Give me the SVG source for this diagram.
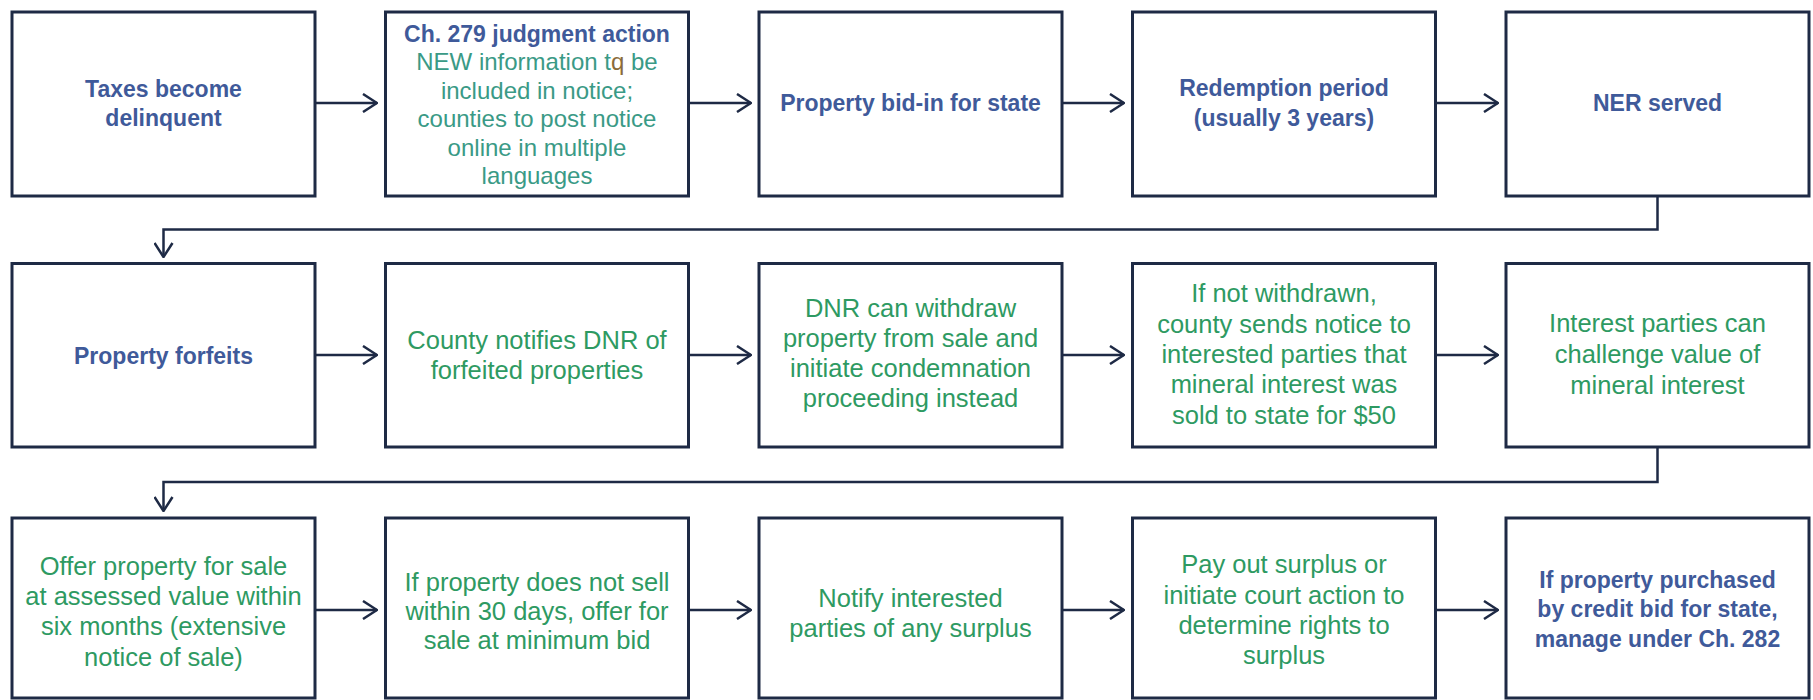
<svg xmlns="http://www.w3.org/2000/svg" width="1813" height="700" viewBox="0 0 1813 700">
<style>
.box{fill:#ffffff;stroke:#1E2A45;stroke-width:3}
.cn{fill:none;stroke:#1E2A45;stroke-width:2.5}
text{font-family:"Liberation Sans",Arial,sans-serif;text-anchor:middle}
.b{font-size:23px;font-weight:bold;fill:#3F5A9A}
.g{font-size:25.5px;fill:#2E9A62}
.t{font-size:24px;fill:#3A9A86}
.q{fill:#8B6B3A}
</style>
<defs>
<marker id="arr" markerUnits="userSpaceOnUse" viewBox="0 0 16 20" refX="15" refY="10" markerWidth="16" markerHeight="20" orient="auto">
<path d="M1,1 L15,10 L1,19" fill="none" stroke="#1E2A45" stroke-width="2.5"/>
</marker>
</defs>
<rect width="1813" height="700" fill="#ffffff"/>

<g id="connectors">
<path class="cn" d="M315,103 H377" marker-end="url(#arr)"/>
<path class="cn" d="M688.5,103 H751" marker-end="url(#arr)"/>
<path class="cn" d="M1062,103 H1124" marker-end="url(#arr)"/>
<path class="cn" d="M1435.5,103 H1498" marker-end="url(#arr)"/>
<path class="cn" d="M1657.5,196 V229.5 H163.5 V257" marker-end="url(#arr)"/>
<path class="cn" d="M315,355 H377" marker-end="url(#arr)"/>
<path class="cn" d="M688.5,355 H751" marker-end="url(#arr)"/>
<path class="cn" d="M1062,355 H1124" marker-end="url(#arr)"/>
<path class="cn" d="M1435.5,355 H1498" marker-end="url(#arr)"/>
<path class="cn" d="M1657.5,447 V482 H163.5 V511" marker-end="url(#arr)"/>
<path class="cn" d="M315,610 H377" marker-end="url(#arr)"/>
<path class="cn" d="M688.5,610 H751" marker-end="url(#arr)"/>
<path class="cn" d="M1062,610 H1124" marker-end="url(#arr)"/>
<path class="cn" d="M1435.5,610 H1498" marker-end="url(#arr)"/>
</g>

<g id="n1">
<rect class="box" x="12" y="12" width="303" height="184"/>
<text class="b" x="163.5" y="96.5">Taxes become</text>
<text class="b" x="163.5" y="125.5">delinquent</text>
</g>
<g id="n2">
<rect class="box" x="385.5" y="12" width="303" height="184"/>
<text class="b" x="537" y="41.5">Ch. 279 judgment action</text>
<text class="t" x="537" y="70">NEW information t<tspan class="q">q</tspan> be</text>
<text class="t" x="537" y="98.5">included in notice;</text>
<text class="t" x="537" y="127">counties to post notice</text>
<text class="t" x="537" y="155.5">online in multiple</text>
<text class="t" x="537" y="184">languages</text>
</g>
<g id="n3">
<rect class="box" x="759" y="12" width="303" height="184"/>
<text class="b" x="910.5" y="110.5">Property bid-in for state</text>
</g>
<g id="n4">
<rect class="box" x="1132.5" y="12" width="303" height="184"/>
<text class="b" x="1284" y="96">Redemption period</text>
<text class="b" x="1284" y="126">(usually 3 years)</text>
</g>
<g id="n5">
<rect class="box" x="1506" y="12" width="303" height="184"/>
<text class="b" x="1657.5" y="110.5">NER served</text>
</g>

<g id="n6">
<rect class="box" x="12" y="263.5" width="303" height="183.5"/>
<text class="b" x="163.5" y="363.5">Property forfeits</text>
</g>
<g id="n7">
<rect class="box" x="385.5" y="263.5" width="303" height="183.5"/>
<text class="g" x="537" y="349">County notifies DNR of</text>
<text class="g" x="537" y="379">forfeited properties</text>
</g>
<g id="n8">
<rect class="box" x="759" y="263.5" width="303" height="183.5"/>
<text class="g" x="910.5" y="317">DNR can withdraw</text>
<text class="g" x="910.5" y="347">property from sale and</text>
<text class="g" x="910.5" y="377">initiate condemnation</text>
<text class="g" x="910.5" y="407">proceeding instead</text>
</g>
<g id="n9">
<rect class="box" x="1132.5" y="263.5" width="303" height="183.5"/>
<text class="g" x="1284" y="302">If not withdrawn,</text>
<text class="g" x="1284" y="332.5">county sends notice to</text>
<text class="g" x="1284" y="363">interested parties that</text>
<text class="g" x="1284" y="393">mineral interest was</text>
<text class="g" x="1284" y="423.5">sold to state for $50</text>
</g>
<g id="n10">
<rect class="box" x="1506" y="263.5" width="303" height="183.5"/>
<text class="g" x="1657.5" y="332">Interest parties can</text>
<text class="g" x="1657.5" y="363">challenge value of</text>
<text class="g" x="1657.5" y="394">mineral interest</text>
</g>

<g id="n11">
<rect class="box" x="12" y="518" width="303" height="180"/>
<text class="g" x="163.5" y="575">Offer property for sale</text>
<text class="g" x="163.5" y="605">at assessed value within</text>
<text class="g" x="163.5" y="635">six months (extensive</text>
<text class="g" x="163.5" y="665.5">notice of sale)</text>
</g>
<g id="n12">
<rect class="box" x="385.5" y="518" width="303" height="180"/>
<text class="g" x="537" y="591">If property does not sell</text>
<text class="g" x="537" y="620">within 30 days, offer for</text>
<text class="g" x="537" y="649">sale at minimum bid</text>
</g>
<g id="n13">
<rect class="box" x="759" y="518" width="303" height="180"/>
<text class="g" x="910.5" y="606.5">Notify interested</text>
<text class="g" x="910.5" y="636.5">parties of any surplus</text>
</g>
<g id="n14">
<rect class="box" x="1132.5" y="518" width="303" height="180"/>
<text class="g" x="1284" y="573">Pay out surplus or</text>
<text class="g" x="1284" y="603.5">initiate court action to</text>
<text class="g" x="1284" y="634">determine rights to</text>
<text class="g" x="1284" y="664">surplus</text>
</g>
<g id="n15">
<rect class="box" x="1506" y="518" width="303" height="180"/>
<text class="b" x="1657.5" y="587.5">If property purchased</text>
<text class="b" x="1657.5" y="616.5">by credit bid for state,</text>
<text class="b" x="1657.5" y="646.5">manage under Ch. 282</text>
</g>
</svg>
